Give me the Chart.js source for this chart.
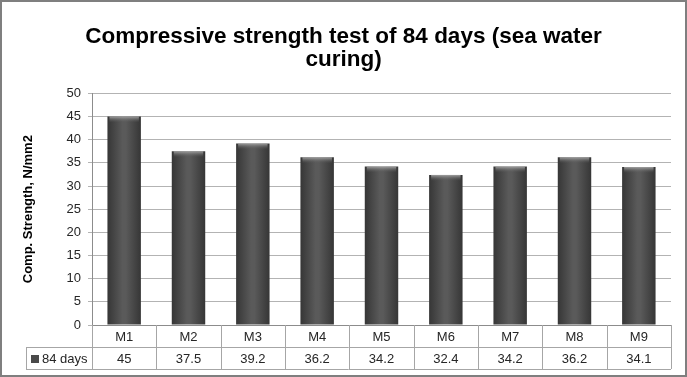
<!DOCTYPE html>
<html>
<head>
<meta charset="utf-8">
<script src="https://cdn.jsdelivr.net/npm/chart.js@4.4.0/dist/chart.umd.min.js"></script>
<style>
  html, body { margin: 0; padding: 0; background: #fff; }
</style>
</head>
<body>
<canvas id="strengthChart" width="687" height="377"></canvas>
<script>
// data
const categories = ['M1', 'M2', 'M3', 'M4', 'M5', 'M6', 'M7', 'M8', 'M9'];
const seriesName = '84 days';
const strength = [45, 37.5, 39.2, 36.2, 34.2, 32.4, 34.2, 36.2, 34.1];
const yMin = 0, yMax = 50, yStep = 5;

const FONT = "'Liberation Sans', Arial, sans-serif";

// gradient across one bar, dark edges and lighter middle
function barFill(c) {
  const chart = c.chart;
  if (!chart.chartArea || c.type !== 'data') return '#4d4d4d';
  const xs = chart.scales.x;
  const cx = xs.getPixelForValue(c.dataIndex);
  const half = xs.width / categories.length * 0.52 / 2;
  const g = chart.ctx.createLinearGradient(cx - half, 0, cx + half, 0);
  g.addColorStop(0, '#363636');
  g.addColorStop(0.45, '#5a5a5a');
  g.addColorStop(0.55, '#5a5a5a');
  g.addColorStop(1, '#363636');
  return g;
}

// light bevel on top of bars
const bevelPlugin = {
  id: 'bevel',
  afterDatasetsDraw(chart) {
    const ctx = chart.ctx;
    chart.getDatasetMeta(0).data.forEach(bar => {
      const left = bar.x - bar.width / 2;
      const g = ctx.createLinearGradient(0, bar.y, 0, bar.y + 6);
      g.addColorStop(0, 'rgba(170,170,170,0.9)');
      g.addColorStop(1, 'rgba(90,90,90,0)');
      ctx.save();
      ctx.fillStyle = g;
      ctx.fillRect(left + 2, bar.y, bar.width - 4, 6);
      ctx.restore();
    });
  }
};

// data table under the axis + outer frame
const tablePlugin = {
  id: 'dataTable',
  afterDraw(chart) {
    const ctx = chart.ctx;
    const xs = chart.scales.x;
    const top = chart.chartArea.bottom;
    const rowMid = top + 22;
    const rowBot = top + 44;
    const tableLeft = 26;
    const step = xs.width / categories.length;

    ctx.save();
    ctx.strokeStyle = '#a6a6a6';
    ctx.lineWidth = 1;
    ctx.beginPath();
    ctx.moveTo(tableLeft, rowMid + 0.5);
    ctx.lineTo(xs.right, rowMid + 0.5);
    ctx.moveTo(tableLeft, rowBot + 0.5);
    ctx.lineTo(xs.right, rowBot + 0.5);
    ctx.moveTo(tableLeft + 0.5, rowMid);
    ctx.lineTo(tableLeft + 0.5, rowBot);
    for (let i = 0; i <= categories.length; i++) {
      const x = Math.round(xs.left + i * step) + 0.5;
      ctx.moveTo(x, top);
      ctx.lineTo(x, rowBot);
    }
    ctx.stroke();

    // values row
    ctx.fillStyle = '#262626';
    ctx.font = '13px ' + FONT;
    ctx.textAlign = 'center';
    ctx.textBaseline = 'middle';
    strength.forEach((v, i) => {
      ctx.fillText(String(v), xs.getPixelForValue(i), rowMid + 12);
    });

    // legend key
    ctx.fillStyle = '#4a4a4a';
    ctx.fillRect(31, rowMid + 8, 8, 8);
    ctx.fillStyle = '#262626';
    ctx.textAlign = 'left';
    ctx.fillText(seriesName, 42, rowMid + 12);

    // outer frame
    ctx.strokeStyle = '#7f7f7f';
    ctx.lineWidth = 2;
    ctx.strokeRect(1, 1, chart.width - 2, chart.height - 2);
    ctx.restore();
  }
};

const cfg = {
  type: 'bar',
  data: {
    labels: categories,
    datasets: [{
      label: seriesName,
      data: strength,
      backgroundColor: barFill,
      borderWidth: 0,
      barPercentage: 0.52,
      categoryPercentage: 1
    }]
  },
  options: {
    responsive: false,
    animation: false,
    devicePixelRatio: 1,
    layout: { padding: 0 },
    plugins: {
      legend: { display: false },
      tooltip: { enabled: false },
      title: {
        display: true,
        text: ['Compressive strength test of 84 days (sea water', 'curing)'],
        color: '#000',
        font: { family: FONT, size: 22.5, weight: 'bold', lineHeight: 1.03 },
        padding: { top: 25, bottom: 22 }
      }
    },
    scales: {
      x: {
        grid: { display: false, drawTicks: false },
        border: { display: true, color: '#8c8c8c' },
        ticks: { color: '#262626', font: { family: FONT, size: 13 }, padding: 5 },
        afterFit(s) { s.height = 52; }
      },
      y: {
        min: yMin,
        max: yMax,
        ticks: { stepSize: yStep, color: '#262626', font: { family: FONT, size: 13 }, padding: 7 },
        grid: { color: '#b3b3b3', tickLength: 4, drawTicks: true },
        border: { display: true, color: '#8c8c8c' },
        title: {
          display: true,
          text: 'Comp. Strength, N/mm2',
          color: '#000',
          font: { family: FONT, size: 13, weight: 'bold' },
          padding: { top: 21, bottom: 0 }
        },
        afterFit(s) { s.width = 92; }
      },
      // empty right-hand spacer so the title stays centred on the whole frame
      yRight: {
        position: 'right',
        grid: { display: false },
        border: { display: false },
        ticks: { display: false },
        afterFit(s) { s.width = 16; }
      }
    }
  },
  plugins: [bevelPlugin, tablePlugin]
};

let strengthChart;
window.addEventListener('DOMContentLoaded', () => {
  const ctx = document.getElementById('strengthChart').getContext('2d');
  strengthChart = new Chart(ctx, cfg);
});
</script>
</body>
</html>
